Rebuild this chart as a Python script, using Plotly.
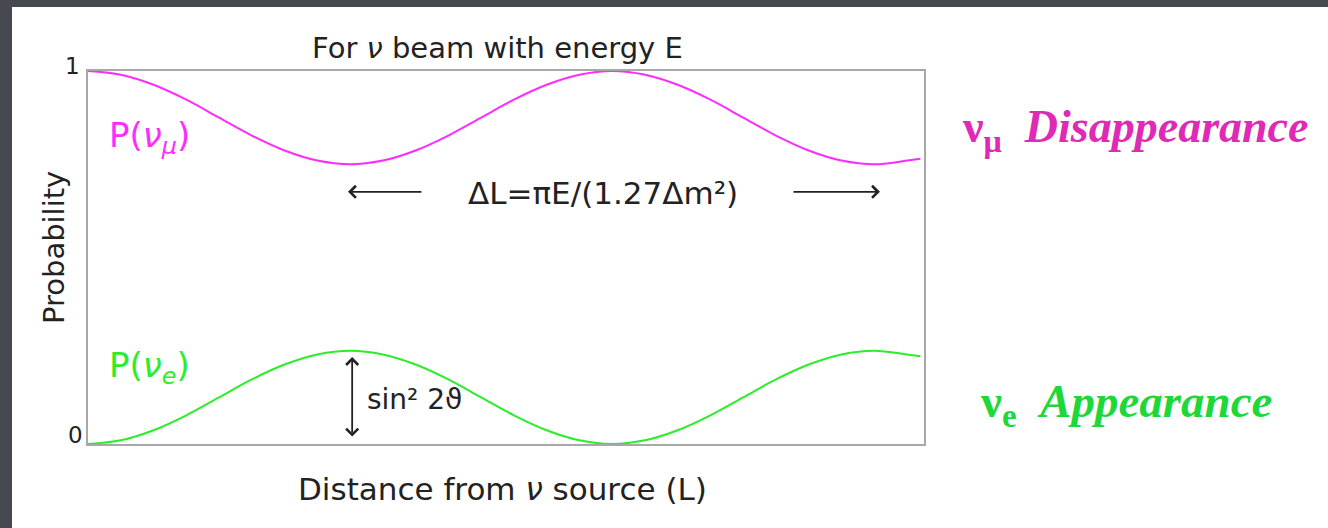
import plotly.graph_objects as go

# Distance from the source, in units of the oscillation length ΔL
distance = [0.0, 0.0625, 0.125, 0.1875, 0.25, 0.3125, 0.375, 0.4375, 0.5,
            0.5625, 0.625, 0.6875, 0.75, 0.8125, 0.875, 0.9375, 1.0,
            1.0625, 1.125, 1.1875, 1.25, 1.3125, 1.375, 1.4375, 1.5,
            1.5625, 1.588]

# Survival probability of the muon neutrino
p_mu = [1.0, 0.99, 0.963, 0.923, 0.875, 0.827, 0.787, 0.76, 0.75,
        0.76, 0.787, 0.827, 0.875, 0.923, 0.963, 0.99, 1.0,
        0.99, 0.963, 0.923, 0.875, 0.827, 0.787, 0.76, 0.75,
        0.76, 0.765]

# Appearance probability of the electron neutrino
p_e = [0.0, 0.01, 0.037, 0.077, 0.125, 0.173, 0.213, 0.24, 0.25,
       0.24, 0.213, 0.173, 0.125, 0.077, 0.037, 0.01, 0.0,
       0.01, 0.037, 0.077, 0.125, 0.173, 0.213, 0.24, 0.25,
       0.24, 0.235]

y_ticks = ["0", "1"]

SANS = "DejaVu Sans"
SERIF = "Liberation Serif"
MAGENTA = "#ff2cff"
GREEN = "#2aee2a"
INK = "#222222"

fig = go.Figure()
fig.add_trace(go.Scatter(x=distance, y=p_mu, mode="lines", line_shape="spline",
                         line=dict(color=MAGENTA, width=2), hoverinfo="skip"))
fig.add_trace(go.Scatter(x=distance, y=p_e, mode="lines", line_shape="spline",
                         line=dict(color=GREEN, width=2), hoverinfo="skip"))

# white slide panel over the dark backdrop
fig.add_shape(type="rect", xref="paper", yref="paper", x0=-0.0909, x1=1.7,
              y0=-0.4, y1=1.1716, fillcolor="white", line_width=0, layer="below")

ann = []
# tick labels at the ends of the probability axis
ann.append(dict(text=y_ticks[1], xref="paper", yref="paper", x=-0.007, y=1.013,
                xanchor="right", yanchor="middle", showarrow=False,
                font=dict(family=SANS, size=23, color=INK)))
ann.append(dict(text=y_ticks[0], xref="paper", yref="paper", x=-0.003, y=0.024,
                xanchor="right", yanchor="middle", showarrow=False,
                font=dict(family=SANS, size=23, color=INK)))
# titles
ann.append(dict(text="For <i>ν</i> beam with energy E", xref="paper", yref="paper",
                x=0.4904, y=1.0617, xanchor="center", yanchor="middle", showarrow=False,
                font=dict(family=SANS, size=29, color=INK)))
ann.append(dict(text="Distance from <i>ν</i> source (L)", xref="paper", yref="paper",
                x=0.4958, y=-0.1206, xanchor="center", yanchor="middle", showarrow=False,
                font=dict(family=SANS, size=31, color=INK)))
ann.append(dict(text="Probability", xref="paper", yref="paper", x=-0.0407, y=0.528,
                xanchor="center", yanchor="middle", textangle=-90, showarrow=False,
                font=dict(family=SANS, size=29, color=INK)))
# curve labels
ann.append(dict(text="P(<i>ν</i><sub><i>μ</i></sub>)", x=0.036, y=0.823,
                xanchor="left", yanchor="middle", showarrow=False,
                font=dict(family=SANS, size=34, color=MAGENTA)))
ann.append(dict(text="P(<i>ν</i><sub><i>e</i></sub>)", x=0.036, y=0.204,
                xanchor="left", yanchor="middle", showarrow=False,
                font=dict(family=SANS, size=34, color=GREEN)))
# oscillation length
ann.append(dict(text="ΔL=πE/(1.27Δm²)", x=0.983, y=0.673, xanchor="center",
                yanchor="middle", showarrow=False,
                font=dict(family=SANS, size=31, color=INK)))
ann.append(dict(text="", x=0.496, y=0.676, ax=75, ay=0, showarrow=True,
                arrowhead=4, arrowsize=1.3, arrowwidth=1.8, arrowcolor=INK))
ann.append(dict(text="", x=1.511, y=0.676, ax=-88, ay=0, showarrow=True,
                arrowhead=4, arrowsize=1.3, arrowwidth=1.8, arrowcolor=INK))
# mixing amplitude
ann.append(dict(text="", x=0.504, y=0.233, ax=0, ay=81, showarrow=True,
                arrowhead=4, startarrowhead=4, arrowside="end+start",
                arrowsize=1.3, startarrowsize=1.3, arrowwidth=1.8, arrowcolor=INK))
ann.append(dict(text="sin² 2ϑ", x=0.529, y=0.118, xanchor="left", yanchor="middle",
                showarrow=False, font=dict(family=SANS, size=28, color=INK)))
# side captions
ann.append(dict(text="<b>ν<sub>μ</sub></b>  <b><i>Disappearance</i></b>",
                xref="paper", yref="paper", x=1.043, y=0.842, xanchor="left",
                yanchor="middle", showarrow=False,
                font=dict(family=SERIF, size=46, color="#de2ab4")))
ann.append(dict(text="<b>ν<sub>e</sub></b>  <b><i>Appearance</i></b>",
                xref="paper", yref="paper", x=1.065, y=0.105, xanchor="left",
                yanchor="middle", showarrow=False,
                font=dict(family=SERIF, size=47, color="#1ed83a")))

fig.update_layout(
    width=1328, height=528,
    margin=dict(l=88, r=404, t=71, b=84),
    paper_bgcolor="#464950",
    plot_bgcolor="white",
    showlegend=False,
    annotations=ann,
    xaxis=dict(range=[0, 1.595], showgrid=False, zeroline=False, showticklabels=False,
               ticks="", showline=True, mirror=True, linecolor="#a8a8a8", linewidth=1.5,
               fixedrange=True),
    yaxis=dict(range=[0, 1], showgrid=False, zeroline=False, showticklabels=False,
               ticks="", showline=True, mirror=True, linecolor="#a8a8a8", linewidth=1.5,
               fixedrange=True),
)

fig.write_html("out.html", config=dict(displayModeBar=False))
